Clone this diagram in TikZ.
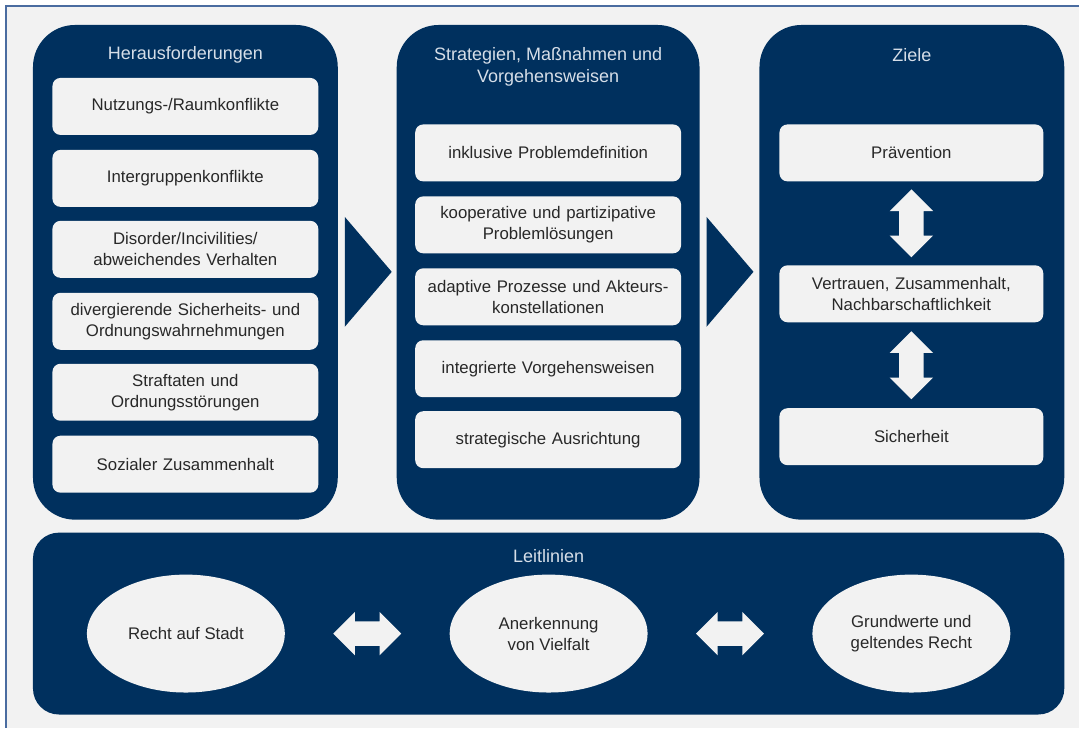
\documentclass[tikz,border=0pt]{standalone}
\usepackage{fontspec}
\setmainfont{Liberation Sans}
\usetikzlibrary{shapes.arrows, shapes.geometric}
\definecolor{navy}{RGB}{0, 48, 94}
\definecolor{pale}{RGB}{242, 242, 242}
\definecolor{frame}{RGB}{74, 108, 160}
\definecolor{ink}{RGB}{40, 40, 40}
\definecolor{headink}{RGB}{214, 222, 232}

\tikzset{
  panel/.style={fill=navy, rounded corners=42pt, inner sep=0pt},
  card/.style={fill=pale, rounded corners=8pt, minimum width=266pt, minimum height=57pt,
    text width=264pt, align=center, inner sep=0pt, text=ink,
    font=\fontsize{16.8}{21}\selectfont},
  head/.style={text=headink, align=center, font=\fontsize{18}{22}\selectfont},
  oval/.style={ellipse, fill=pale, minimum width=198pt, minimum height=118pt,
    align=center, inner sep=0pt, text=ink, font=\fontsize{16.8}{21}\selectfont},
  twoway/.style={double arrow, fill=pale, minimum height=68pt, minimum width=43pt,
    double arrow head extend=9.5pt, inner xsep=0pt, inner ysep=12pt}
}

\begin{document}
\begin{tikzpicture}[x=1pt, y=-1pt]
  % page and frame
  \fill[white] (0, 0) rectangle (1080, 728);
  \fill[pale] (6, 6) rectangle (1080, 728);
  \draw[frame, line width=1.5pt] (6, 728) -- (6, 6) -- (1080, 6);

  % the three columns and the bottom band
  \node[panel, minimum width=305pt, minimum height=495pt] (chal) at (185.5, 272.5) {};
  \node[panel, minimum width=303pt, minimum height=495pt] (strat) at (548.5, 272.5) {};
  \node[panel, minimum width=305pt, minimum height=495pt] (goal) at (912.5, 272.5) {};
  \node[panel, rounded corners=26pt, minimum width=1032pt, minimum height=182pt] (guide) at (549, 624) {};

  \fill[navy] (345, 217) -- (392, 272) -- (345, 327) -- cycle;
  \fill[navy] (707, 217) -- (754, 272) -- (707, 327) -- cycle;

  % headings
  \node[head] (chalhead) at (185.5, 55) {Herausforderungen};
  \node[head] (strathead) at (548.5, 67) {Strategien, Maßnahmen und\\Vorgehensweisen};
  \node[head] (goalhead) at (912.5, 55) {Ziele};
  \node[head] (guidehead) at (549, 556) {Leitlinien};

  % challenges
  \foreach \y/\n/\t in {106.5/c1/{Nutzungs-/Raumkonflikte},
                        178.5/c2/Intergruppenkonflikte,
                        249.5/c3/{Disorder/Incivilities/\\abweichendes Verhalten},
                        321.5/c4/{divergierende Sicherheits- und\\Ordnungswahrnehmungen},
                        392.5/c5/{Straftaten und\\Ordnungsstörungen},
                        464.5/c6/Sozialer Zusammenhalt}
    \node[card] (\n) at (185.5, \y) {\t};

  % strategies
  \foreach \y/\n/\t in {153/s1/inklusive Problemdefinition,
                        225/s2/{kooperative und partizipative\\Problemlösungen},
                        297/s3/{adaptive Prozesse und Akteurs-\\konstellationen},
                        369/s4/integrierte Vorgehensweisen,
                        440/s5/strategische Ausrichtung}
    \node[card] (\n) at (548.5, \y) {\t};

  % goals
  \node[card, minimum width=264pt] (z1) at (912, 153) {Prävention};
  \node[card, minimum width=264pt] (z2) at (912, 294) {Vertrauen, Zusammenhalt,\\Nachbarschaftlichkeit};
  \node[card, minimum width=264pt] (z3) at (912, 437) {Sicherheit};
  \path (z1) -- (z2) node[midway, twoway, rotate=90] (z12) {};
  \path (z2) -- (z3) node[midway, twoway, rotate=90] (z23) {};

  % guidelines
  \node[oval] (g1) at (186, 634) {Recht auf Stadt};
  \node[oval] (g2) at (549, 634) {Anerkennung\\von Vielfalt};
  \node[oval] (g3) at (912, 634) {Grundwerte und\\geltendes Recht};
  \path (g1) -- (g2) node[midway, twoway] (g12) {};
  \path (g2) -- (g3) node[midway, twoway] (g23) {};
\end{tikzpicture}
\end{document}
